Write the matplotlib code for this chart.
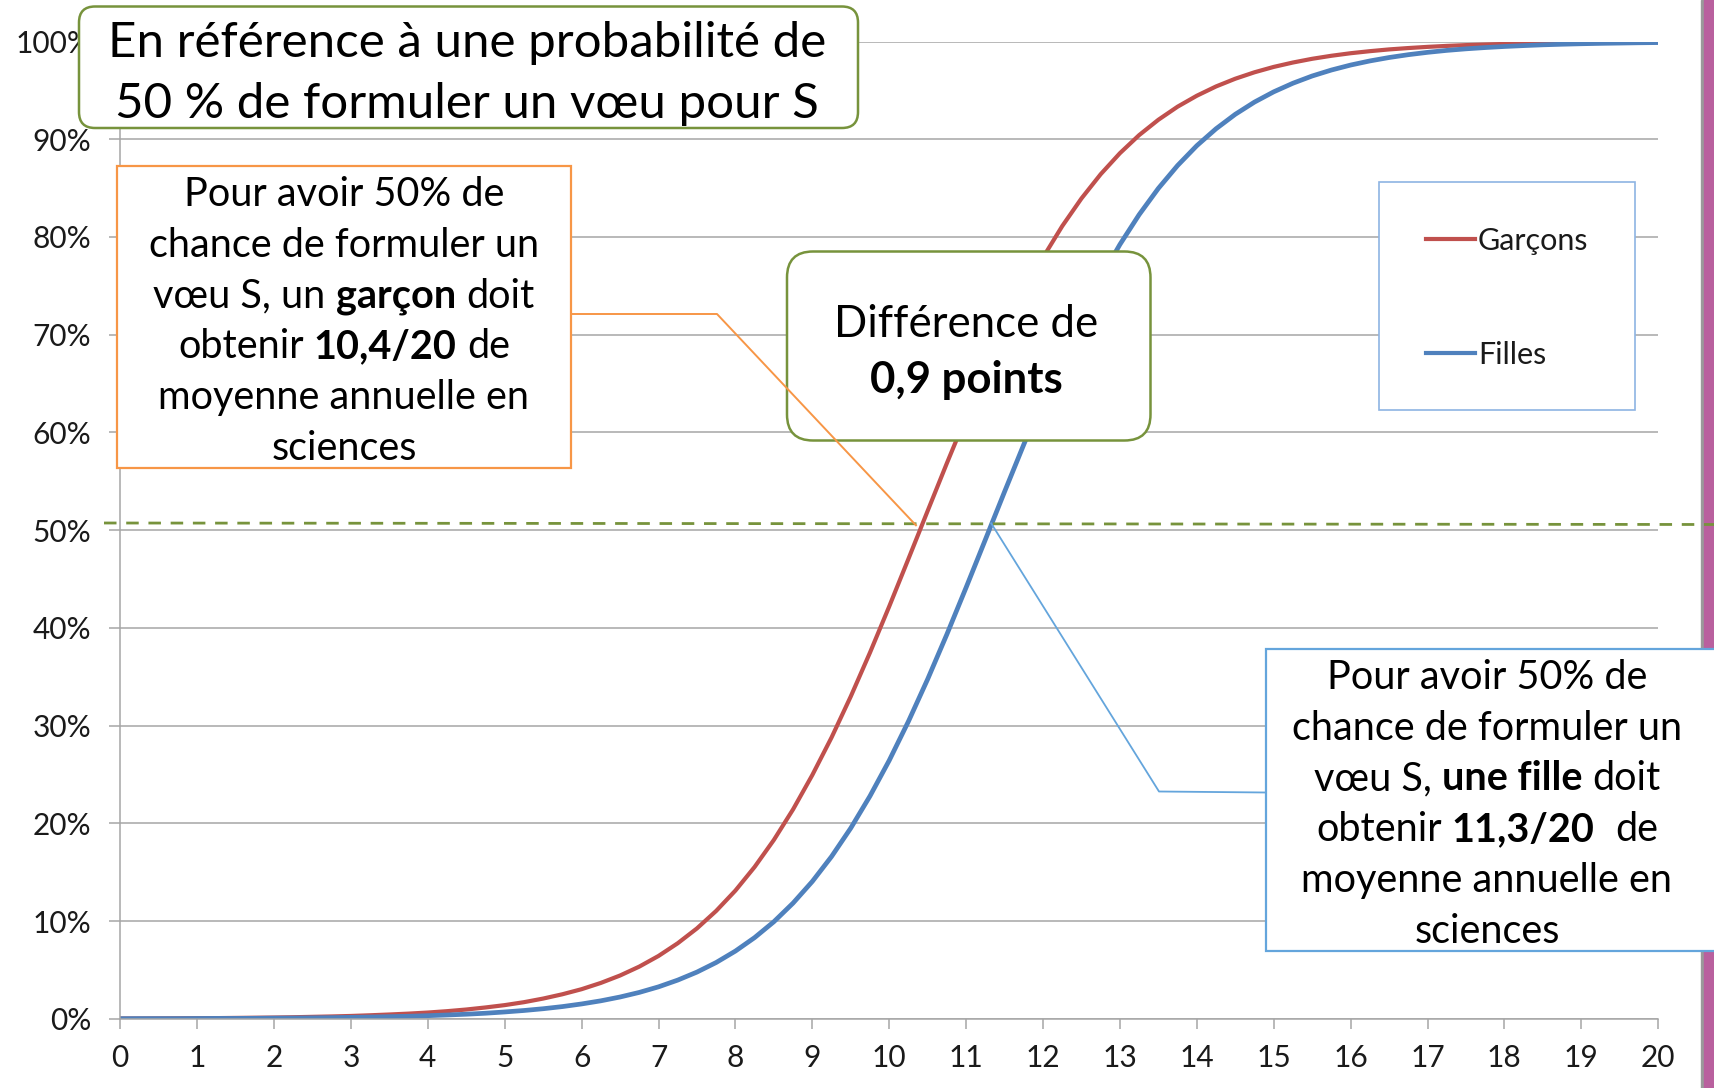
import matplotlib
matplotlib.use("Agg")
import matplotlib.pyplot as plt
import numpy as np
from matplotlib.patches import FancyBboxPatch, Rectangle

plt.rcParams['font.family'] = ['Lato', 'DejaVu Sans']

W, H = 1714, 1088

# moyenne annuelle en sciences (sur 20), relevée tous les quarts de point
moyennes = np.linspace(0, 20, 81)
# probabilité de formuler un voeu S, en %
garcons = [0.03, 0.03, 0.04, 0.05, 0.06, 0.07, 0.09, 0.11, 0.13, 0.16,
           0.20, 0.24, 0.29, 0.36, 0.44, 0.53, 0.64, 0.78, 0.95, 1.16,
           1.40, 1.70, 2.07, 2.51, 3.03, 3.67, 4.43, 5.34, 6.43, 7.73,
           9.25, 11.04, 13.12, 15.54, 18.30, 21.43, 24.94, 28.78, 32.98, 37.47,
           42.19, 47.06, 51.97, 56.85, 61.60, 66.13, 70.39, 74.33, 77.90, 81.11,
           83.94, 86.42, 88.57, 90.42, 91.99, 93.33, 94.45, 95.40, 96.19, 96.85,
           97.40, 97.85, 98.23, 98.54, 98.80, 99.01, 99.19, 99.33, 99.45, 99.55,
           99.63, 99.69, 99.75, 99.79, 99.83, 99.86, 99.89, 99.91, 99.92, 99.94,
           99.95]
filles = [0.01, 0.02, 0.02, 0.02, 0.03, 0.04, 0.04, 0.05, 0.07, 0.08,
          0.10, 0.12, 0.15, 0.18, 0.22, 0.26, 0.32, 0.39, 0.47, 0.57,
          0.70, 0.85, 1.03, 1.25, 1.52, 1.84, 2.23, 2.70, 3.27, 3.96,
          4.78, 5.76, 6.93, 8.31, 9.93, 11.84, 14.05, 16.60, 19.51, 22.79,
          26.43, 30.43, 34.75, 39.34, 44.13, 49.02, 53.93, 58.76, 63.44, 67.88,
          72.01, 75.80, 79.23, 82.28, 84.97, 87.31, 89.34, 91.07, 92.55, 93.80,
          94.85, 95.73, 96.47, 97.08, 97.59, 98.01, 98.36, 98.65, 98.89, 99.09,
          99.25, 99.38, 99.49, 99.58, 99.66, 99.72, 99.77, 99.81, 99.84, 99.87,
          99.89]
series = ["Garçons", "Filles"]
seuil_garcons = 10.4
seuil_filles = 11.3
niveau_ref = 50.6

titre = ["En référence à une probabilité de", "50 % de formuler un vœu pour S"]
texte_garcon = [[("Pour avoir 50% de", False)],
                [("chance de formuler un", False)],
                [("vœu S, un", False), (" garçon", True), (" doit", False)],
                [("obtenir", False), (" 10,4/20", True), (" de", False)],
                [("moyenne annuelle en", False)],
                [("sciences", False)]]
texte_fille = [[("Pour avoir 50% de", False)],
               [("chance de formuler un", False)],
               [("vœu S,", False), (" une fille", True), (" doit", False)],
               [("obtenir", False), (" 11,3/20", True), ("  de", False)],
               [("moyenne annuelle en", False)],
               [("sciences", False)]]
texte_diff = [[("Différence de", False)], [("0,9 points", True)]]

ROUGE = "#C0504D"
BLEU = "#4F81BD"
VERT = "#77933C"
ORANGE = "#F79646"
BLEU_CLAIR = "#64A5DC"
GRIS = "#A6A6A6"

fig = plt.figure(figsize=(W / 100, H / 100), dpi=100)
fig.patch.set_facecolor("white")

# graphique principal
x0, x1, y0, y1 = 120.2, 1658.2, 1018.8, 41.5
ax = fig.add_axes([x0 / W, 1 - y0 / H, (x1 - x0) / W, (y0 - y1) / H])
ax.plot(moyennes, garcons, color=ROUGE, lw=3.0, solid_capstyle="round")
ax.plot(moyennes, filles, color=BLEU, lw=3.4, solid_capstyle="round")
ax.set_xlim(0, 20)
ax.set_ylim(0, 100)
ax.set_xticks(range(21))
ax.set_yticks(range(0, 101, 10))
ax.set_yticklabels([f"{v}%" for v in range(0, 101, 10)])
ax.yaxis.grid(True, color=GRIS, lw=1.1)
ax.set_axisbelow(True)
for s in ["top", "right"]:
    ax.spines[s].set_visible(False)
for s in ["left", "bottom"]:
    ax.spines[s].set_color(GRIS)
    ax.spines[s].set_linewidth(1.1)
ax.tick_params(axis="x", length=7.5, width=1.1, color=GRIS, pad=11,
               labelsize=21.5, labelcolor="#1a1a1a")
ax.tick_params(axis="y", length=8, width=1.1, color=GRIS, pad=13,
               labelsize=21.5, labelcolor="#1a1a1a")

# calque en pixels pour les encadrés
ov = fig.add_axes([0, 0, 1, 1])
ov.set_xlim(0, W)
ov.set_ylim(H, 0)
ov.axis("off")
rend = fig.canvas.get_renderer()


def vers_pixels(x, y):
    px, py = ax.transData.transform((x, y))
    return px, H - py


def largeur(txt, size, gras):
    t = ov.text(0, 0, txt, fontsize=size, fontweight="bold" if gras else "normal")
    w = t.get_window_extent(rend).width
    t.remove()
    return w


def ligne(xc, yb, parts, size, z=8):
    esp = largeur("n n", size, False) - largeur("nn", size, False)
    morceaux = []
    total = 0
    for txt, gras in parts:
        lead = len(txt) - len(txt.lstrip(" "))
        w = largeur(txt.strip(), size, gras)
        morceaux.append((txt.strip(), gras, total + lead * esp))
        total += lead * esp + w
    for txt, gras, dx in morceaux:
        ov.text(xc - total / 2 + dx, yb, txt, fontsize=size,
                fontweight="bold" if gras else "normal", va="baseline",
                ha="left", color="black", zorder=z)


def boite(xa, ya, xb, yb, couleur, lw, rayon=0, z=5):
    style = f"round,pad=0,rounding_size={rayon}" if rayon else "square,pad=0"
    ov.add_patch(FancyBboxPatch((xa, ya), xb - xa, yb - ya, boxstyle=style,
                                fc="white", ec=couleur, lw=lw, zorder=z))


# bande de couleur à droite
ov.add_patch(Rectangle((1701, 0), 3, H, color="#9a9a9a", zorder=2))
ov.add_patch(Rectangle((1704, 0), 10, H, color="#B9609E", zorder=2))

# ligne de référence à 50 %
ov.plot([104, W], [523, 524.5], color=VERT, lw=2, ls=(0, (4.5, 3.5)), zorder=3)

# titre
boite(79, 6.5, 858, 128, VERT, 1.8, rayon=16)
ligne(467, 57, [(titre[0], False)], 35.5)
ligne(467, 118, [(titre[1], False)], 35.5)

# encadré garçons
boite(117, 166, 571, 468, ORANGE, 1.6)
for i, parts in enumerate(texte_garcon):
    ligne(344, 205.7 + 50.9 * i, parts, 28.5)
px, py = vers_pixels(seuil_garcons, niveau_ref)
ov.plot([571, 717, px - 4], [314, 314, py + 1], color=ORANGE, lw=1.4, zorder=7)

# encadré différence
boite(787, 251.5, 1150.5, 440.5, VERT, 1.8, rayon=26)
ligne(966, 337.3, texte_diff[0], 31.5)
ligne(966, 393.3, texte_diff[1], 31.5)

# encadré filles
boite(1266, 649, 1740, 951, BLEU_CLAIR, 1.6)
for i, parts in enumerate(texte_fille):
    ligne(1487, 688.6 + 50.9 * i, parts, 28.5)
px, py = vers_pixels(seuil_filles, niveau_ref)
ov.plot([px + 2, 1159, 1266], [py - 1, 791.5, 792.5], color=BLEU_CLAIR, lw=1.3,
        zorder=4)

# légende
boite(1379, 182, 1635, 410, "#8EB4E3", 1.2, z=5)
for yl, c, nom in [(239, ROUGE, series[0]), (353, BLEU, series[1])]:
    ov.plot([1426, 1475], [yl, yl], color=c, lw=3, zorder=6)
    ov.text(1478, yl + 11, nom, fontsize=22, va="baseline", ha="left",
            color="#1a1a1a", zorder=6)

fig.savefig("out.png", dpi=100)
